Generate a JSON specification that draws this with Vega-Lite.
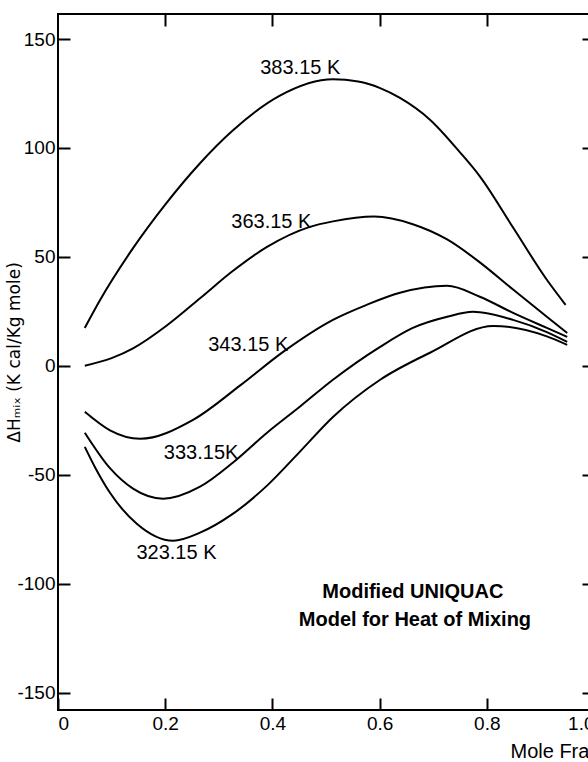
{
  "$schema": "https://vega.github.io/schema/vega-lite/v6.json",
  "width": 536,
  "height": 696,
  "autosize": {"type": "none"},
  "padding": {"left": 58, "top": 14, "right": 0, "bottom": 52},
  "background": "white",
  "config": {
    "view": {"stroke": "black", "strokeWidth": 2},
    "axis": {
      "domain": false,
      "grid": false,
      "ticks": true,
      "tickColor": "black",
      "tickWidth": 2,
      "tickSize": -12,
      "labelColor": "black",
      "labelFont": "Liberation Sans",
      "labelFontSize": 19,
      "titleColor": "black"
    }
  },
  "datasets": {
    "curves": [
      {"T": "383.15", "x": 0.05, "dH": 17.4},
      {"T": "383.15", "x": 0.078, "dH": 30},
      {"T": "383.15", "x": 0.14, "dH": 54},
      {"T": "383.15", "x": 0.2, "dH": 74},
      {"T": "383.15", "x": 0.265, "dH": 93},
      {"T": "383.15", "x": 0.326, "dH": 108},
      {"T": "383.15", "x": 0.414, "dH": 124},
      {"T": "383.15", "x": 0.513, "dH": 131.5},
      {"T": "383.15", "x": 0.56, "dH": 130.5},
      {"T": "383.15", "x": 0.601, "dH": 127.5},
      {"T": "383.15", "x": 0.638, "dH": 123},
      {"T": "383.15", "x": 0.694, "dH": 113},
      {"T": "383.15", "x": 0.75, "dH": 98},
      {"T": "383.15", "x": 0.787, "dH": 87},
      {"T": "383.15", "x": 0.849, "dH": 63.5},
      {"T": "383.15", "x": 0.912, "dH": 39.5},
      {"T": "383.15", "x": 0.947, "dH": 28},

      {"T": "363.15", "x": 0.05, "dH": 0},
      {"T": "363.15", "x": 0.1, "dH": 3.5},
      {"T": "363.15", "x": 0.14, "dH": 8},
      {"T": "363.15", "x": 0.203, "dH": 18.5},
      {"T": "363.15", "x": 0.265, "dH": 31},
      {"T": "363.15", "x": 0.326, "dH": 43.5},
      {"T": "363.15", "x": 0.39, "dH": 54.6},
      {"T": "363.15", "x": 0.47, "dH": 63.8},
      {"T": "363.15", "x": 0.513, "dH": 66.3},
      {"T": "363.15", "x": 0.59, "dH": 68.5},
      {"T": "363.15", "x": 0.662, "dH": 65},
      {"T": "363.15", "x": 0.726, "dH": 58},
      {"T": "363.15", "x": 0.787, "dH": 47.5},
      {"T": "363.15", "x": 0.849, "dH": 35},
      {"T": "363.15", "x": 0.912, "dH": 22.5},
      {"T": "363.15", "x": 0.95, "dH": 15.1},

      {"T": "343.15", "x": 0.05, "dH": -21.1},
      {"T": "343.15", "x": 0.097, "dH": -29.6},
      {"T": "343.15", "x": 0.153, "dH": -33.5},
      {"T": "343.15", "x": 0.252, "dH": -24.8},
      {"T": "343.15", "x": 0.34, "dH": -9},
      {"T": "343.15", "x": 0.42, "dH": 6.4},
      {"T": "343.15", "x": 0.513, "dH": 21.1},
      {"T": "343.15", "x": 0.576, "dH": 28},
      {"T": "343.15", "x": 0.638, "dH": 33.5},
      {"T": "343.15", "x": 0.726, "dH": 36.7},
      {"T": "343.15", "x": 0.787, "dH": 31.7},
      {"T": "343.15", "x": 0.849, "dH": 24.3},
      {"T": "343.15", "x": 0.912, "dH": 17.4},
      {"T": "343.15", "x": 0.95, "dH": 13.3},

      {"T": "333.15", "x": 0.05, "dH": -30.7},
      {"T": "333.15", "x": 0.097, "dH": -47},
      {"T": "333.15", "x": 0.14, "dH": -56.4},
      {"T": "333.15", "x": 0.196, "dH": -61},
      {"T": "333.15", "x": 0.265, "dH": -55.5},
      {"T": "333.15", "x": 0.326, "dH": -44.5},
      {"T": "333.15", "x": 0.39, "dH": -30.7},
      {"T": "333.15", "x": 0.451, "dH": -18.8},
      {"T": "333.15", "x": 0.513, "dH": -6.4},
      {"T": "333.15", "x": 0.601, "dH": 8.7},
      {"T": "333.15", "x": 0.662, "dH": 17.4},
      {"T": "333.15", "x": 0.726, "dH": 22.5},
      {"T": "333.15", "x": 0.774, "dH": 24.8},
      {"T": "333.15", "x": 0.849, "dH": 21.1},
      {"T": "333.15", "x": 0.912, "dH": 15.5},
      {"T": "333.15", "x": 0.95, "dH": 11},

      {"T": "323.15", "x": 0.05, "dH": -37.2},
      {"T": "323.15", "x": 0.07, "dH": -47},
      {"T": "323.15", "x": 0.097, "dH": -58.3},
      {"T": "323.15", "x": 0.147, "dH": -72.5},
      {"T": "323.15", "x": 0.215, "dH": -80.3},
      {"T": "323.15", "x": 0.265, "dH": -76.6},
      {"T": "323.15", "x": 0.326, "dH": -68},
      {"T": "323.15", "x": 0.39, "dH": -55},
      {"T": "323.15", "x": 0.451, "dH": -39.5},
      {"T": "323.15", "x": 0.513, "dH": -23.5},
      {"T": "323.15", "x": 0.601, "dH": -6.4},
      {"T": "323.15", "x": 0.694, "dH": 6},
      {"T": "323.15", "x": 0.812, "dH": 18.3},
      {"T": "323.15", "x": 0.912, "dH": 13.5},
      {"T": "323.15", "x": 0.95, "dH": 9.6}
    ],
    "curveLabels": [
      {"x": 0.452, "dH": 136.7, "label": "383.15 K"},
      {"x": 0.398, "dH": 66, "label": "363.15 K"},
      {"x": 0.355, "dH": 9.6, "label": "343.15 K"},
      {"x": 0.267, "dH": -39.9, "label": "333.15K"},
      {"x": 0.221, "dH": -85.8, "label": "323.15 K"}
    ],
    "note": [
      {"x": 0.662, "dH": -103.7, "label": "Modified UNIQUAC"},
      {"x": 0.666, "dH": -116.5, "label": "Model for Heat of Mixing"}
    ]
  },
  "layer": [
    {
      "data": {"name": "curves"},
      "mark": {"type": "line", "interpolate": "monotone", "color": "black", "strokeWidth": 2},
      "encoding": {
        "x": {
          "field": "x",
          "type": "quantitative",
          "scale": {"domain": [0, 1], "nice": false, "zero": false},
          "axis": {
            "orient": "bottom",
            "values": [0, 0.2, 0.4, 0.6, 0.8, 1],
            "labelExpr": "datum.value == 0 ? '0' : format(datum.value, '.1f')",
            "labelPadding": 16,
            "title": "Mole Fraction",
            "titleFont": "Liberation Sans",
            "titleFontSize": 20,
            "titleFontWeight": "normal",
            "titleAnchor": "start",
            "titleAlign": "left",
            "titleBaseline": "middle",
            "titleX": 452,
            "titleY": 41
          }
        },
        "y": {
          "field": "dH",
          "type": "quantitative",
          "scale": {"domain": [-158, 161.5], "nice": false, "zero": false},
          "axis": {
            "orient": "left",
            "values": [-150, -100, -50, 0, 50, 100, 150],
            "labelExpr": "datum.value < 0 ? '-' + abs(datum.value) : '' + datum.value",
            "labelPadding": 15,
            "title": "ΔHₘᵢₓ (K cal/Kg mole)",
            "titleFont": "DejaVu Sans",
            "titleFontSize": 17,
            "titleFontWeight": "normal",
            "titleAngle": -90,
            "titleAlign": "center",
            "titleBaseline": "middle",
            "titleX": -44,
            "titleY": 338
          }
        },
        "detail": {"field": "T", "type": "nominal"}
      }
    },
    {
      "data": {"name": "curveLabels"},
      "mark": {"type": "text", "font": "Liberation Sans", "fontSize": 20, "color": "black", "align": "center", "baseline": "middle"},
      "encoding": {
        "x": {
          "field": "x",
          "type": "quantitative",
          "axis": {"orient": "top", "values": [0.2, 0.4, 0.6, 0.8], "labels": false, "title": null}
        },
        "y": {
          "field": "dH",
          "type": "quantitative",
          "axis": {"orient": "right", "values": [-150, -100, -50, 0, 50, 100, 150], "labels": false, "title": null}
        },
        "text": {"field": "label"}
      }
    },
    {
      "data": {"name": "note"},
      "mark": {"type": "text", "font": "Liberation Sans", "fontSize": 20, "fontWeight": "bold", "color": "black", "align": "center", "baseline": "middle"},
      "encoding": {
        "x": {"field": "x", "type": "quantitative", "axis": null},
        "y": {"field": "dH", "type": "quantitative", "axis": null},
        "text": {"field": "label"}
      }
    }
  ],
  "resolve": {"axis": {"x": "independent", "y": "independent"}}
}
